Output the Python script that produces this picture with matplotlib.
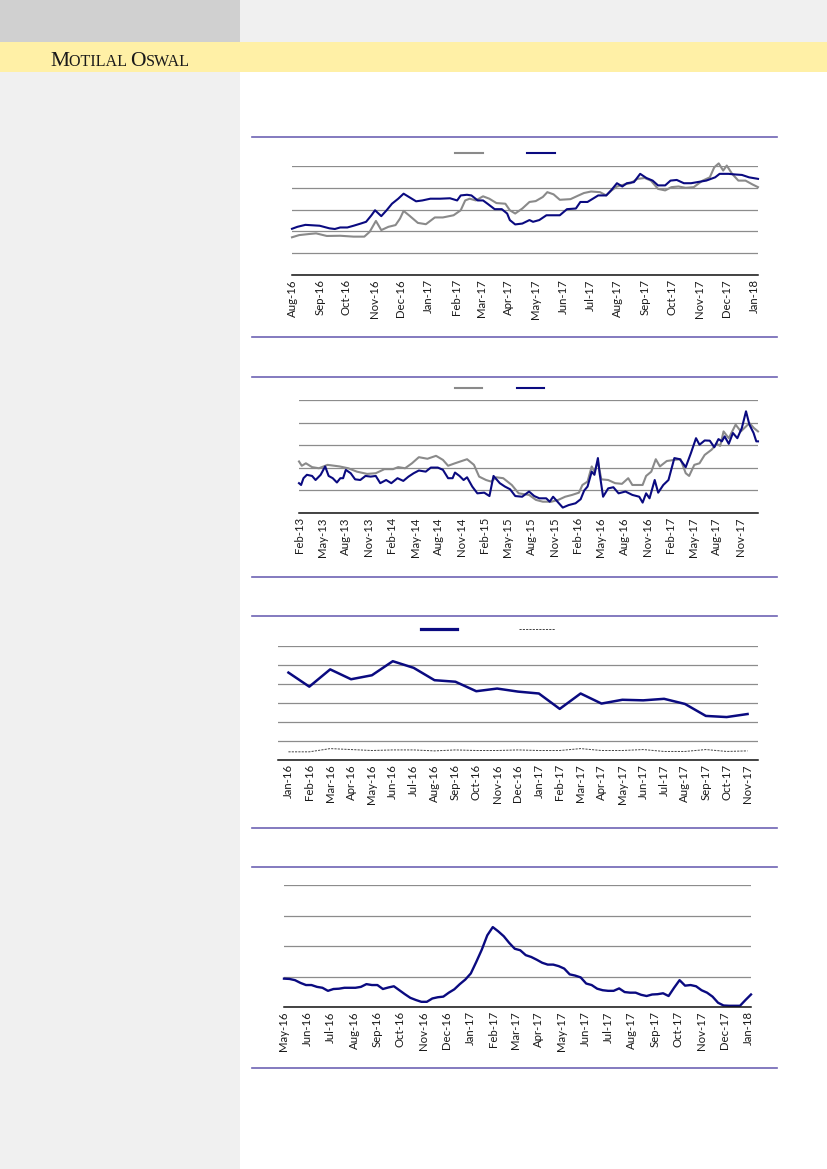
import numpy as np
import pandas as pd
import matplotlib
matplotlib.use('Agg')
import matplotlib.pyplot as plt
import matplotlib.dates as mdates
from matplotlib.patches import Rectangle
from matplotlib.lines import Line2D

plt.rcParams['font.family'] = ['Lato', 'DejaVu Sans']

NAVY = '#0a0a80'
GREY = '#8a8a8a'
GRID = '#8c8c8c'
RULE = '#6e64b4'

# ---------------------------------------------------------------------------
# Chart 1 : daily, Aug-16 .. Jan-18 (days after 2016-08-01, value in grid units)
c1_start = '2016-08-01'
c1_navy_day = [0, 6, 15, 31, 42, 48, 54, 62, 69, 77, 83, 89, 93, 100, 106, 112, 119, 125,
               131, 139, 146, 155, 166, 177, 185, 189, 196, 201, 208, 214, 219, 227, 235,
               241, 244, 250, 258, 266, 270, 277, 285, 293, 300, 308, 318, 323, 331, 337,
               343, 352, 358, 364, 370, 375, 383, 390, 397, 404, 410, 418, 424, 431, 439,
               447, 454, 464, 474, 479, 489, 497, 504, 512, 522]
c1_navy = [2.12, 2.21, 2.30, 2.26, 2.14, 2.11, 2.18, 2.18, 2.26, 2.36, 2.44, 2.74, 2.97,
           2.70, 2.97, 3.27, 3.50, 3.73, 3.58, 3.38, 3.42, 3.50, 3.50, 3.52, 3.42, 3.65,
           3.68, 3.65, 3.42, 3.42, 3.27, 3.02, 3.02, 2.82, 2.52, 2.32, 2.36, 2.52, 2.44,
           2.52, 2.74, 2.74, 2.74, 3.02, 3.05, 3.35, 3.35, 3.50, 3.65, 3.65, 3.91, 4.21,
           4.06, 4.21, 4.26, 4.64, 4.45, 4.33, 4.11, 4.11, 4.33, 4.36, 4.21, 4.21, 4.26,
           4.33, 4.48, 4.64, 4.64, 4.61, 4.59, 4.48, 4.41]
c1_grey_day = [0, 8, 19, 27, 39, 54, 69, 81, 87, 94, 100, 108, 116, 121, 125, 131, 141,
               150, 160, 169, 181, 189, 194, 199, 206, 214, 221, 229, 239, 244, 250, 258,
               266, 273, 281, 286, 293, 300, 312, 321, 327, 335, 345, 352, 358, 364, 372,
               379, 387, 395, 402, 410, 418, 425, 433, 441, 450, 460, 468, 473, 478, 483,
               487, 493, 500, 508, 516, 522]
c1_grey = [1.73, 1.83, 1.88, 1.91, 1.79, 1.80, 1.76, 1.76, 1.98, 2.48, 2.06, 2.21, 2.29,
           2.59, 2.94, 2.74, 2.39, 2.33, 2.64, 2.64, 2.74, 2.97, 3.42, 3.50, 3.42, 3.61,
           3.50, 3.30, 3.27, 2.97, 2.82, 3.05, 3.35, 3.39, 3.58, 3.80, 3.70, 3.45, 3.48,
           3.65, 3.76, 3.83, 3.80, 3.65, 3.88, 4.06, 4.15, 4.21, 4.41, 4.45, 4.33, 3.95,
           3.88, 4.03, 4.06, 4.00, 4.03, 4.33, 4.48, 4.94, 5.12, 4.79, 5.02, 4.64, 4.33,
           4.33, 4.15, 4.03]

# Chart 2 : weekly, Feb-13 .. Jan-18 (months after Feb-13)
c2_labels = ['Feb-13', 'May-13', 'Aug-13', 'Nov-13', 'Feb-14', 'May-14', 'Aug-14', 'Nov-14',
             'Feb-15', 'May-15', 'Aug-15', 'Nov-15', 'Feb-16', 'May-16', 'Aug-16', 'Nov-16',
             'Feb-17', 'May-17', 'Aug-17', 'Nov-17']
c2_navy_m = [0, 0.27, 0.58, 1.02, 1.69, 2.14, 2.80, 3.38, 3.83, 4.36, 4.90, 5.34, 5.70,
             6.05, 6.68, 7.25, 7.92, 8.59, 9.26, 9.92, 10.50, 11.26, 11.93, 12.73, 13.48,
             14.15, 14.82, 15.49, 16.38, 17.04, 17.94, 18.60, 19.27, 19.85, 20.16, 20.74,
             21.27, 21.72, 22.39, 23.05, 23.94, 24.61, 25.14, 25.95, 26.61, 27.28, 27.95,
             28.84, 29.73, 30.40, 31.06, 31.95, 32.40, 32.84, 33.51, 34.09, 34.85, 35.74,
             36.40, 36.85, 37.29, 37.83, 38.18, 38.63, 38.85, 39.30, 39.96, 40.63, 41.30,
             42.19, 43.08, 43.97, 44.41, 44.86, 45.30, 45.97, 46.42, 47.08, 47.75, 48.51,
             49.22, 49.98, 50.65, 51.31, 51.76, 52.43, 53.09, 53.67, 54.21, 54.65, 55.01,
             55.54, 56.08, 56.65, 57.23, 57.77, 58.21, 58.75, 59.10, 59.32]
c2_navy = [1.32, 1.24, 1.54, 1.69, 1.64, 1.46, 1.69, 2.06, 1.64, 1.54, 1.35, 1.54, 1.54,
           1.91, 1.76, 1.49, 1.46, 1.64, 1.61, 1.64, 1.32, 1.46, 1.32, 1.54, 1.42, 1.61,
           1.76, 1.88, 1.83, 2.01, 2.01, 1.91, 1.54, 1.54, 1.79, 1.64, 1.46, 1.58, 1.17,
           0.87, 0.90, 0.75, 1.64, 1.32, 1.17, 1.05, 0.75, 0.72, 0.95, 0.75, 0.65, 0.65,
           0.50, 0.72, 0.46, 0.24, 0.35, 0.43, 0.61, 0.99, 1.17, 1.83, 1.69, 2.43, 1.76,
           0.72, 1.09, 1.14, 0.87, 0.95, 0.80, 0.72, 0.46, 0.87, 0.65, 1.46, 0.90, 1.24,
           1.46, 2.43, 2.38, 2.03, 2.65, 3.31, 3.02, 3.21, 3.20, 2.91, 3.27, 3.17, 3.39,
           3.06, 3.54, 3.31, 3.76, 4.50, 3.91, 3.54, 3.17, 3.17]
c2_grey_m = [0, 0.36, 0.89, 1.69, 2.58, 3.69, 5.25, 6.36, 7.48, 8.81, 9.92, 11.04, 12.15,
             12.82, 13.71, 14.60, 15.49, 16.60, 17.71, 18.60, 19.27, 20.16, 21.72, 22.61,
             23.28, 24.17, 24.83, 25.50, 26.39, 27.50, 28.39, 29.73, 30.62, 31.51, 32.62,
             33.51, 34.40, 35.29, 36.18, 36.63, 37.29, 37.83, 38.18, 38.63, 39.07, 39.96,
             40.85, 41.74, 42.55, 43.08, 44.41, 44.86, 45.53, 46.11, 46.64, 47.53, 48.51,
             49.31, 49.98, 50.42, 51.09, 51.76, 52.43, 53.32, 53.98, 54.43, 54.87, 55.54,
             56.43, 57.10, 57.77, 58.21, 58.79, 59.32]
c2_grey = [2.28, 2.09, 2.20, 2.03, 1.98, 2.13, 2.06, 1.98, 1.83, 1.73, 1.76, 1.94, 1.94,
           2.03, 1.98, 2.20, 2.47, 2.40, 2.53, 2.35, 2.09, 2.20, 2.38, 2.13, 1.61, 1.46,
           1.39, 1.58, 1.54, 1.24, 0.87, 0.80, 0.58, 0.50, 0.50, 0.58, 0.72, 0.80, 0.90,
           1.24, 1.39, 2.06, 1.83, 2.28, 1.49, 1.46, 1.32, 1.29, 1.54, 1.24, 1.24, 1.64,
           1.83, 2.38, 2.06, 2.30, 2.35, 2.38, 1.76, 1.64, 2.13, 2.20, 2.57, 2.80, 3.06,
           2.97, 3.61, 3.31, 3.91, 3.61, 3.83, 3.98, 3.76, 3.61]

# Chart 3 : monthly, Jan-16 .. Nov-17
c3_labels = ['Jan-16', 'Feb-16', 'Mar-16', 'Apr-16', 'May-16', 'Jun-16', 'Jul-16', 'Aug-16',
             'Sep-16', 'Oct-16', 'Nov-16', 'Dec-16', 'Jan-17', 'Feb-17', 'Mar-17', 'Apr-17',
             'May-17', 'Jun-17', 'Jul-17', 'Aug-17', 'Sep-17', 'Oct-17', 'Nov-17']
c3_navy = [4.60, 3.86, 4.77, 4.25, 4.46, 5.20, 4.85, 4.20, 4.12, 3.62, 3.76, 3.60, 3.50,
           2.69, 3.50, 2.97, 3.17, 3.14, 3.22, 2.95, 2.32, 2.26, 2.42]
c3_dash = [0.43, 0.43, 0.60, 0.55, 0.50, 0.53, 0.53, 0.48, 0.53, 0.50, 0.50, 0.53, 0.50,
           0.50, 0.60, 0.50, 0.50, 0.55, 0.45, 0.45, 0.55, 0.45, 0.48]

# Chart 4 : weekly, May-16 .. Jan-18
c4_start, c4_end = '2016-05-01', '2018-01-05'
c4_vals = [0.93, 0.92, 0.88, 0.79, 0.72, 0.72, 0.66, 0.63, 0.53, 0.59, 0.60, 0.63, 0.63,
           0.63, 0.66, 0.75, 0.72, 0.72, 0.59, 0.64, 0.68, 0.55, 0.42, 0.30, 0.23, 0.17,
           0.17, 0.28, 0.32, 0.34, 0.47, 0.58, 0.75, 0.90, 1.10, 1.48, 1.88, 2.35, 2.62,
           2.48, 2.32, 2.10, 1.91, 1.86, 1.70, 1.64, 1.55, 1.45, 1.39, 1.39, 1.34, 1.26,
           1.07, 1.03, 0.97, 0.77, 0.72, 0.60, 0.55, 0.53, 0.53, 0.61, 0.49, 0.47, 0.47,
           0.40, 0.36, 0.41, 0.42, 0.45, 0.36, 0.63, 0.88, 0.70, 0.72, 0.68, 0.55, 0.47,
           0.34, 0.14, 0.05, 0.04, 0.04, 0.04, 0.23, 0.41]

# ---------------------------------------------------------------------------
W, H = 827, 1169
FS = 8.2
fig = plt.figure(figsize=(W / 100, H / 100), dpi=100)


def px_box(x0, y0, x1, y1):
    # pixel box (top-left origin) -> figure fraction rect
    return [x0 / W, 1 - y1 / H, (x1 - x0) / W, (y1 - y0) / H]


# page background
for (x0, y0, x1, y1, col) in [(0, 0, 240, 42, '#d0d0d0'), (240, 0, W, 42, '#f0f0f0'),
                              (0, 42, W, 72, '#fff0a6'), (0, 72, 240, H, '#f0f0f0')]:
    b = px_box(x0, y0, x1, y1)
    fig.add_artist(Rectangle((b[0], b[1]), b[2], b[3], transform=fig.transFigure,
                             facecolor=col, edgecolor='none', zorder=0))

# logo in small caps
renderer = fig.canvas.get_renderer()
xpos = 50 / W
for txt, sz in [('M', 15.5), ('OTILAL ', 11.6), ('O', 15.5), ('SWAL', 11.6)]:
    t = fig.text(xpos, 1 - 66 / H, txt, fontsize=sz, family='Liberation Serif',
                 color='#1a1a1a', va='baseline', ha='left')
    xpos += t.get_window_extent(renderer).width / W

# horizontal rules around the charts
for y in [137, 337, 377, 577, 616, 828, 867, 1068]:
    fig.add_artist(Line2D([252 / W, 777 / W], [1 - y / H, 1 - y / H], transform=fig.transFigure,
                          color=RULE, lw=1.2))


def style(ax, nlines):
    ax.set_ylim(0, nlines)
    ax.set_yticks(range(nlines + 1))
    ax.set_yticklabels([])
    ax.tick_params(axis='y', length=0)
    ax.tick_params(axis='x', length=0, pad=3, labelsize=FS, labelrotation=90,
                   labelcolor='#1a1a1a')
    ax.grid(axis='y', color=GRID, lw=0.9)
    ax.set_axisbelow(True)
    for s in ['top', 'left', 'right']:
        ax.spines[s].set_visible(False)
    ax.spines['bottom'].set_color('#111111')
    ax.spines['bottom'].set_linewidth(1.1)
    ax.patch.set_alpha(0)


def legend(ax, handles, cx, cy, hl_px, gap_px):
    fpx = FS * 100 / 72
    ax.legend(handles, [''] * len(handles), ncol=len(handles), loc='center',
              bbox_to_anchor=(cx / W, 1 - cy / H), bbox_transform=fig.transFigure,
              frameon=False, handlelength=hl_px / fpx, handletextpad=0,
              columnspacing=gap_px / fpx, fontsize=FS, borderpad=0, borderaxespad=0)


# Chart 1
ax1 = fig.add_axes(px_box(292, 166, 758, 275))
base1 = pd.Timestamp(c1_start)
d_navy = base1 + pd.to_timedelta(c1_navy_day, unit='D')
d_grey = base1 + pd.to_timedelta(c1_grey_day, unit='D')
g1, = ax1.plot(d_grey, c1_grey, color=GREY, lw=1.5, clip_on=False)
n1, = ax1.plot(d_navy, c1_navy, color=NAVY, lw=1.5, clip_on=False)
style(ax1, 5)
ax1.set_xlim(base1, d_navy[-1])
ax1.set_xticks(pd.date_range(c1_start, '2018-01-01', freq='MS'))
ax1.xaxis.set_major_formatter(mdates.DateFormatter('%b-%y'))
legend(ax1, [g1, n1], 505, 153, 28, 44)

# Chart 2
ax2 = fig.add_axes(px_box(299, 400, 758, 513))
g2, = ax2.plot(c2_grey_m, c2_grey, color=GREY, lw=1.5, clip_on=False)
n2, = ax2.plot(c2_navy_m, c2_navy, color=NAVY, lw=1.5, clip_on=False)
style(ax2, 5)
ax2.set_xlim(0, c2_navy_m[-1])
ax2.set_xticks(np.arange(len(c2_labels)) * 3)
ax2.set_xticklabels(c2_labels)
legend(ax2, [g2, n2], 499.5, 388, 27, 35)

# Chart 3
ax3 = fig.add_axes(px_box(278, 646, 758, 760))
xs = np.arange(len(c3_labels))
n3, = ax3.plot(xs, c3_navy, color=NAVY, lw=1.8)
d3, = ax3.plot(xs, c3_dash, color='#444444', lw=0.7, ls=(0, (2.2, 1.2)))
style(ax3, 6)
ax3.set_xlim(-0.5, len(c3_labels) - 0.5)
ax3.set_xticks(xs)
ax3.set_xticklabels(c3_labels)
lg = legend(ax3, [n3, d3], 487.5, 629, 36, 62)
ax3.get_legend().get_lines()[0].set_linewidth(2.3)

# Chart 4
ax4 = fig.add_axes(px_box(284, 885, 751, 1007))
d4 = pd.date_range(c4_start, c4_end, periods=len(c4_vals))
ax4.plot(d4, c4_vals, color=NAVY, lw=1.7, clip_on=False)
style(ax4, 4)
ax4.set_xlim(d4[0], d4[-1])
ax4.set_xticks(pd.date_range(c4_start, '2018-01-01', freq='MS'))
ax4.xaxis.set_major_formatter(mdates.DateFormatter('%b-%y'))

fig.savefig('out.png', dpi=100)
